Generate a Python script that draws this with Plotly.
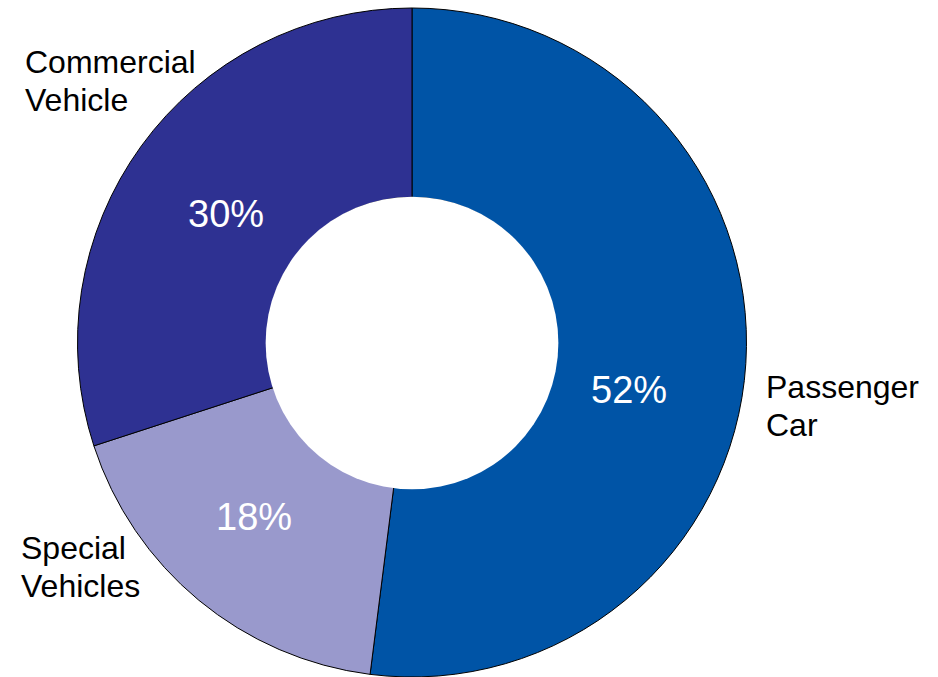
import plotly.graph_objects as go

categories = ["Passenger Car", "Special Vehicles", "Commercial Vehicle"]
label_lines = [["Passenger", "Car"], ["Special", "Vehicles"], ["Commercial", "Vehicle"]]
shares = [52, 18, 30]
colors = ["#0054A6", "#9999CC", "#2E3192"]

W, H = 938, 677
cx, cy, R = 412, 343, 334.5
hole_frac = 0.434

fig = go.Figure(go.Pie(
    labels=categories,
    values=shares,
    sort=False,
    direction="clockwise",
    rotation=0,
    hole=hole_frac,
    marker=dict(colors=colors, line=dict(color="black", width=1)),
    textinfo="none",
    hoverinfo="label+percent",
    domain=dict(x=[(cx - R) / W, (cx + R) / W], y=[0, (H - 8) / H]),
    showlegend=False,
))

def px(x):
    return x / W

def py(y):
    return 1 - y / H

# white cover for inner hole edge
hr = R * hole_frac + 1.2
fig.add_shape(type="circle", xref="paper", yref="paper",
              x0=px(cx - hr), x1=px(cx + hr), y0=py(cy + hr), y1=py(cy - hr),
              fillcolor="white", line=dict(width=0), layer="above")

font = "Liberation Sans, Arial, sans-serif"
pct_pos = [(629, 390), (254, 517), (226, 214)]
for s, (x, y) in zip(shares, pct_pos):
    fig.add_annotation(x=px(x), y=py(y), xref="paper", yref="paper",
                       text=f"{s}%", showarrow=False, xanchor="center", yanchor="middle",
                       font=dict(family=font, size=38, color="white"))

lab_pos = [(764, 387), (19, 548), (23, 62)]
line_gap = 38
for lines, (x, y) in zip(label_lines, lab_pos):
    for i, t in enumerate(lines):
        fig.add_annotation(x=px(x), y=py(y + i * line_gap), xref="paper", yref="paper",
                           text=t, showarrow=False, xanchor="left", yanchor="middle", align="left",
                           font=dict(family=font, size=32, color="black"))

fig.update_layout(width=W, height=H, margin=dict(l=0, r=0, t=0, b=0),
                  paper_bgcolor="white", plot_bgcolor="white")
fig.write_html("out.html", config={"displayModeBar": False},
               post_script="document.body.style.margin='0px';")
